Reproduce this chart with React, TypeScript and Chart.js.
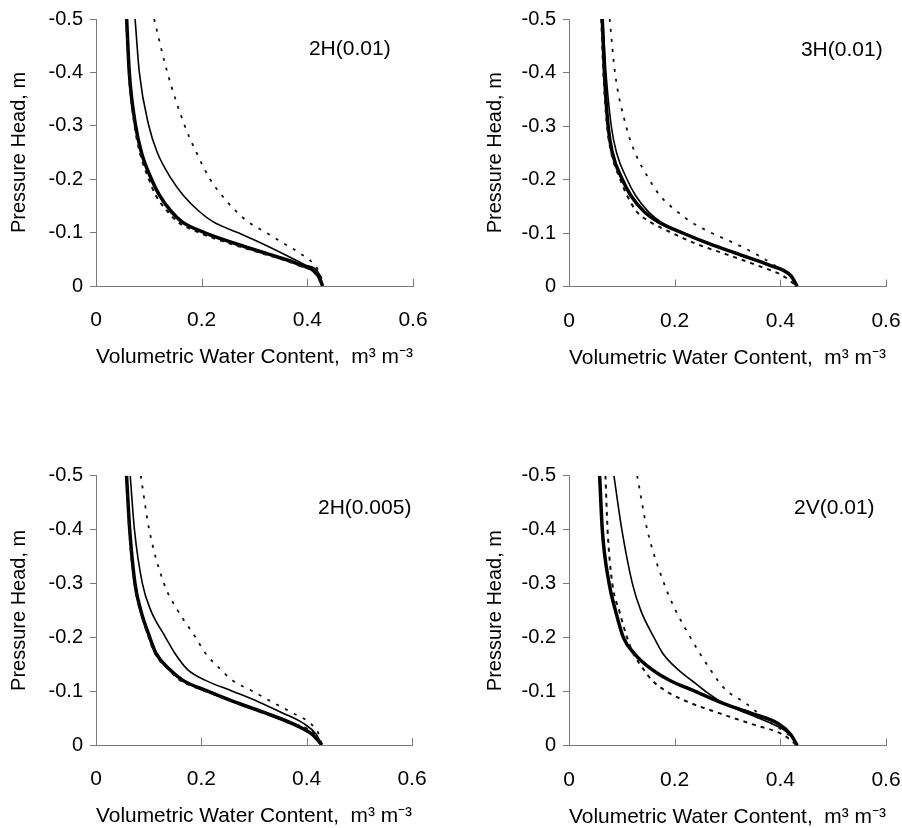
import React, { useEffect, useRef } from 'react';
import { Chart, registerables } from 'chart.js';

Chart.register(...registerables);

// ---------------- data ----------------
const pressureHead = [-0.5, -0.4, -0.3, -0.25, -0.2, -0.17, -0.14, -0.12, -0.1, -0.08, -0.06, -0.04, -0.02, 0];

const xTickValues = [0, 0.2, 0.4, 0.6];
const xTickLabels = ['0', '0.2', '0.4', '0.6'];
const yTickValues = [-0.5, -0.4, -0.3, -0.2, -0.1, 0];
const yTickLabels = ['-0.5', '-0.4', '-0.3', '-0.2', '-0.1', '0'];

const panelLabels = ['2H(0.01)', '3H(0.01)', '2H(0.005)', '2V(0.01)'];
const xAxisTitle = 'Volumetric Water Content,  m\u00B3 m\u207B\u00B3';
const yAxisTitle = 'Pressure Head, m';

// Panel 2H(0.01)
const p1Thick = [0.058, 0.063, 0.075, 0.086, 0.105, 0.120, 0.142, 0.163, 0.205, 0.262, 0.325, 0.385, 0.420, 0.429];
const p1Thin = [0.074, 0.082, 0.100, 0.116, 0.143, 0.165, 0.195, 0.222, 0.268, 0.313, 0.355, 0.395, 0.424, 0.429];
const p1Dotted = [0.110, 0.135, 0.168, 0.190, 0.216, 0.238, 0.265, 0.288, 0.322, 0.355, 0.388, 0.413, 0.425, 0.430];
const p1Dashed = [0.057, 0.062, 0.073, 0.083, 0.100, 0.113, 0.135, 0.155, 0.195, 0.252, 0.318, 0.380, 0.418, 0.429];

// Panel 3H(0.01)
const p2Thick = [0.063, 0.067, 0.074, 0.082, 0.101, 0.117, 0.142, 0.170, 0.215, 0.265, 0.322, 0.379, 0.420, 0.432];
const p2Thin = [0.064, 0.070, 0.080, 0.090, 0.110, 0.126, 0.150, 0.175, 0.218, 0.268, 0.324, 0.380, 0.420, 0.432];
const p2Dotted = [0.077, 0.087, 0.108, 0.125, 0.152, 0.172, 0.205, 0.232, 0.270, 0.315, 0.355, 0.388, 0.418, 0.432];
const p2Dashed = [0.061, 0.065, 0.072, 0.080, 0.097, 0.110, 0.128, 0.155, 0.195, 0.240, 0.298, 0.355, 0.405, 0.432];

// Panel 2H(0.005)
const p3Thick = [0.058, 0.064, 0.074, 0.085, 0.102, 0.114, 0.140, 0.165, 0.212, 0.263, 0.320, 0.372, 0.410, 0.429];
const p3Thin = [0.065, 0.073, 0.088, 0.104, 0.132, 0.150, 0.174, 0.208, 0.259, 0.309, 0.353, 0.394, 0.418, 0.429];
const p3Dotted = [0.085, 0.101, 0.129, 0.155, 0.189, 0.208, 0.237, 0.259, 0.297, 0.334, 0.372, 0.407, 0.423, 0.429];
const p3Dashed = [0.058, 0.063, 0.073, 0.084, 0.100, 0.112, 0.138, 0.160, 0.208, 0.262, 0.322, 0.375, 0.415, 0.429];

// Panel 2V(0.01)
const p4Thick = [0.058, 0.063, 0.076, 0.088, 0.103, 0.124, 0.158, 0.192, 0.240, 0.287, 0.344, 0.397, 0.420, 0.432];
const p4Thin = [0.085, 0.100, 0.120, 0.136, 0.161, 0.178, 0.207, 0.233, 0.259, 0.290, 0.335, 0.385, 0.418, 0.432];
const p4Dotted = [0.129, 0.148, 0.180, 0.202, 0.230, 0.248, 0.268, 0.282, 0.300, 0.332, 0.358, 0.385, 0.415, 0.432];
const p4Dashed = [0.069, 0.073, 0.082, 0.095, 0.110, 0.122, 0.142, 0.158, 0.185, 0.227, 0.284, 0.345, 0.405, 0.432];

// ---------------- layout / style ----------------
const FONT = '"Liberation Sans", Arial, Helvetica, sans-serif';
const AXIS_COLOR = '#7a7a7a';

type PanelSpec = {
  left: number; top: number; w: number; h: number;
  pad: { left: number; top: number; right: number; bottom: number };
  yWidth: number;
  label: string;
  labelAt: { x: number; y: number };
  series: { thick: number[]; thin: number[]; dotted: number[]; dashed: number[] };
};

const panels: PanelSpec[] = [
  {
    left: 0, top: 0, w: 451, h: 460,
    pad: { left: 0, top: 17.5, right: 38, bottom: 92 }, yWidth: 96,
    label: panelLabels[0], labelAt: { x: 0.403, y: -0.444 },
    series: { thick: p1Thick, thin: p1Thin, dotted: p1Dotted, dashed: p1Dashed },
  },
  {
    left: 451, top: 0, w: 471, h: 460,
    pad: { left: 25, top: 17.5, right: 36, bottom: 91.5 }, yWidth: 93,
    label: panelLabels[1], labelAt: { x: 0.439, y: -0.4415 },
    series: { thick: p2Thick, thin: p2Thin, dotted: p2Dotted, dashed: p2Dashed },
  },
  {
    left: 0, top: 414, w: 451, h: 460,
    pad: { left: 0, top: 61.7, right: 39, bottom: 47 }, yWidth: 96,
    label: panelLabels[2], labelAt: { x: 0.4215, y: -0.44 },
    series: { thick: p3Thick, thin: p3Thin, dotted: p3Dotted, dashed: p3Dashed },
  },
  {
    left: 451, top: 414, w: 471, h: 460,
    pad: { left: 25, top: 61.7, right: 36, bottom: 46.5 }, yWidth: 93,
    label: panelLabels[3], labelAt: { x: 0.426, y: -0.44 },
    series: { thick: p4Thick, thin: p4Thin, dotted: p4Dotted, dashed: p4Dashed },
  },
];

const toPoints = (theta: number[]) => theta.map((t, i) => ({ x: t, y: pressureHead[i] }));

const inwardTicks = {
  id: 'inwardTicks',
  afterDraw(chart: any) {
    const xs = chart.scales.x;
    const ctx = chart.ctx;
    const b = chart.chartArea.bottom;
    ctx.save();
    ctx.strokeStyle = AXIS_COLOR;
    ctx.lineWidth = 1;
    xs.ticks.forEach((t: any) => {
      if (t.value === 0) return;
      const px = Math.round(xs.getPixelForValue(t.value)) + 0.5;
      ctx.beginPath();
      ctx.moveTo(px, b);
      ctx.lineTo(px, b - 7);
      ctx.stroke();
    });
    ctx.restore();
  },
};

const panelLabel = {
  id: 'panelLabel',
  afterDraw(chart: any, _args: any, opts: any) {
    const ctx = chart.ctx;
    const x = chart.scales.x.getPixelForValue(opts.x);
    const y = chart.scales.y.getPixelForValue(opts.y);
    ctx.save();
    ctx.fillStyle = '#000';
    ctx.font = `21px ${FONT}`;
    ctx.textAlign = 'left';
    ctx.textBaseline = 'middle';
    ctx.fillText(opts.text, x, y);
    ctx.restore();
  },
};

const lineBase = { pointRadius: 0, fill: false, cubicInterpolationMode: 'monotone' as const };

function Panel({ spec }: { spec: PanelSpec }) {
  const ref = useRef<HTMLCanvasElement>(null);
  useEffect(() => {
    const s = spec.series;
    const chart = new Chart(ref.current as HTMLCanvasElement, {
      type: 'line',
      data: {
        datasets: [
          { ...lineBase, data: toPoints(s.dotted), borderColor: '#111', borderWidth: 1.8, borderDash: [3, 7] },
          { ...lineBase, data: toPoints(s.dashed), borderColor: '#111', borderWidth: 2, borderDash: [4, 5] },
          { ...lineBase, data: toPoints(s.thin), borderColor: '#000', borderWidth: 1.6 },
          { ...lineBase, data: toPoints(s.thick), borderColor: '#000', borderWidth: 3.5 },
        ],
      },
      plugins: [inwardTicks, panelLabel],
      options: {
        animation: false,
        responsive: false,
        devicePixelRatio: 1,
        events: [],
        layout: { padding: spec.pad },
        plugins: {
          legend: { display: false },
          tooltip: { enabled: false },
          // @ts-ignore
          panelLabel: { text: spec.label, x: spec.labelAt.x, y: spec.labelAt.y },
        },
        scales: {
          x: {
            type: 'linear',
            min: 0,
            max: 0.6,
            afterBuildTicks: (sc: any) => { sc.ticks = xTickValues.map((v) => ({ value: v })); },
            afterFit: (sc: any) => { sc.height = 82; },
            grid: { display: false },
            border: { display: true, color: AXIS_COLOR, width: 1 },
            ticks: {
              color: '#000',
              padding: 14,
              font: { family: FONT, size: 21 },
              maxRotation: 0,
              callback: (_v: any, i: number) => xTickLabels[i],
            },
            title: {
              display: true,
              text: xAxisTitle,
              color: '#000',
              font: { family: FONT, size: 21, lineHeight: 1 },
              padding: { top: 0, bottom: 0 },
            },
          },
          y: {
            type: 'linear',
            min: -0.5,
            max: 0,
            reverse: true,
            afterBuildTicks: (sc: any) => { sc.ticks = yTickValues.map((v) => ({ value: v })); },
            afterFit: (sc: any) => { sc.width = spec.yWidth; },
            grid: { display: true, drawOnChartArea: false, drawTicks: true, tickLength: 6, color: AXIS_COLOR, lineWidth: 1 },
            border: { display: true, color: AXIS_COLOR, width: 1 },
            ticks: {
              color: '#000',
              padding: 7,
              font: { family: FONT, size: 20 },
              callback: (_v: any, i: number) => yTickLabels[i],
            },
            title: {
              display: true,
              text: yAxisTitle,
              color: '#000',
              font: { family: FONT, size: 20, lineHeight: 1 },
              padding: { top: 9, bottom: 0 },
            },
          },
        },
      },
    } as any);
    return () => chart.destroy();
  }, [spec]);
  return (
    <canvas
      ref={ref}
      width={spec.w}
      height={spec.h}
      style={{ position: 'absolute', left: spec.left, top: spec.top, width: spec.w, height: spec.h }}
    />
  );
}

export default function App() {
  return (
    <div style={{ position: 'absolute', left: 0, top: 0, width: 902, height: 828, overflow: 'hidden', background: '#fff' }}>
      {panels.map((p, i) => (
        <Panel key={i} spec={p} />
      ))}
    </div>
  );
}
